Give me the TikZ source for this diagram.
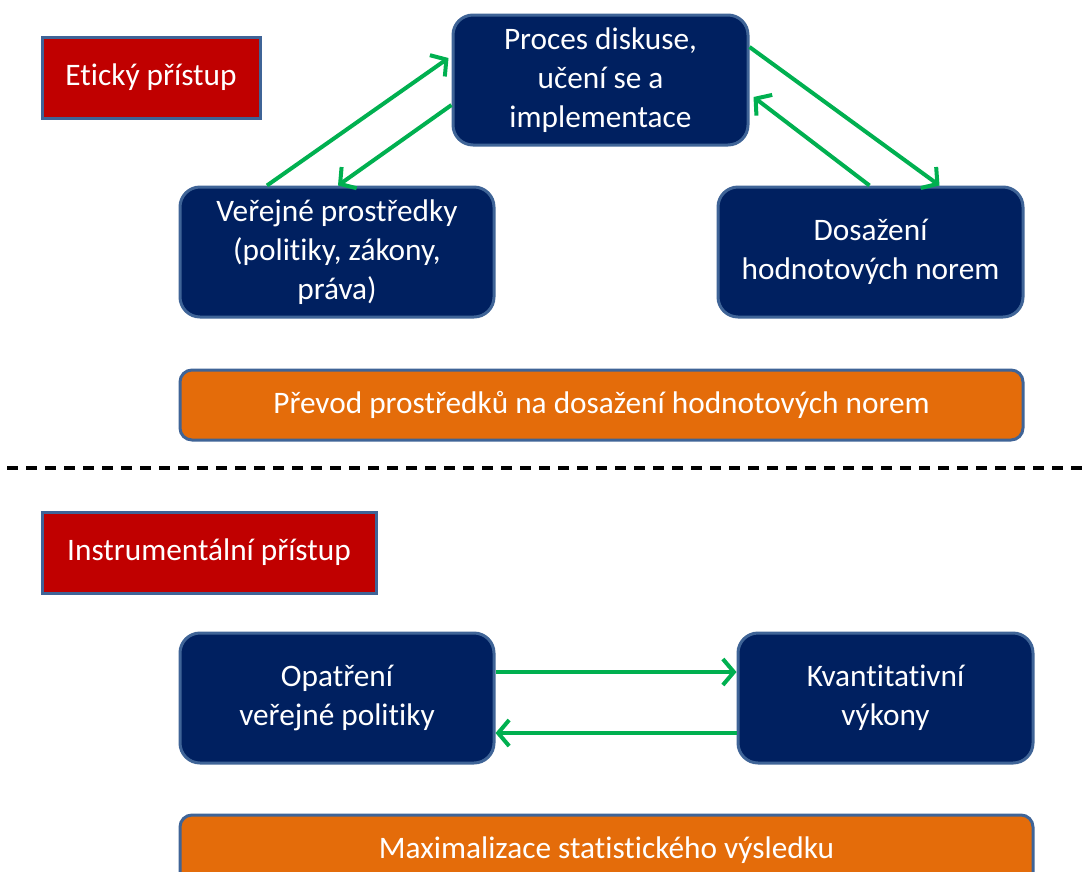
\documentclass[tikz,border=0pt]{standalone}
\usepackage{fontspec}
\setmainfont{Carlito}[Ligatures=NoCommon]
\usetikzlibrary{arrows.meta,calc}
\definecolor{navy}{HTML}{002060}
\definecolor{edgeblue}{HTML}{3F6497}
\definecolor{boxred}{HTML}{C00000}
\definecolor{boxorange}{HTML}{E46C0A}
\definecolor{arrgreen}{HTML}{00B050}
\tikzset{
  every node/.style={font=\fontsize{31.3}{39}\selectfont, text=white, align=center, inner sep=0pt},
  navybox/.style={draw=edgeblue, line width=3pt, fill=navy, rounded corners=20pt, minimum height=130pt},
  redbox/.style={draw=edgeblue, line width=3pt, fill=boxred, minimum height=81pt},
  orangebox/.style={draw=edgeblue, line width=3pt, fill=boxorange, rounded corners=12pt, minimum height=70pt},
  flow/.style={draw=arrgreen, line width=4pt, -{Straight Barb[length=11pt,width=26pt]}},
}
\begin{document}
\begin{tikzpicture}[x=1pt,y=-1pt]
\useasboundingbox (0,0) rectangle (1083,871);

% etický přístup
\node[redbox, minimum width=218pt] (etik) at (151,77.5) {Etický přístup};
\node[navybox, minimum width=295pt] (proces) at (600.5,80) {Proces diskuse,\\učení se a\\implementace};
\node[navybox, minimum width=314pt] (verejne) at (337,252) {Veřejné prostředky\\(politiky, zákony,\\práva)};
\node[navybox, minimum width=305pt] (dosazeni) at (870.5,252) {Dosažení\\hodnotových norem};
\node[orangebox, minimum width=843pt] (prevod) at (601.5,405) {Převod prostředků na dosažení hodnotových norem};

\draw[flow] ($(verejne.north)+(-70,0)$) -- ($(proces.west)+(-3,-22)$);
\draw[flow] ($(proces.west)+(0,25)$) -- ($(verejne.north)+(1,0)$);
\draw[flow] ($(proces.east)+(0,-33)$) -- ($(dosazeni.north)+(69,0)$);
\draw[flow] ($(dosazeni.north)+(-1,0)$) -- ($(proces.east)+(4,17)$);

% predel
\draw[line width=4pt, dash pattern=on 11pt off 8pt] (7,468) -- (1083,468);

% instrumentální přístup
\node[redbox, minimum width=334pt] (instr) at (209,552.5) {Instrumentální přístup};
\node[navybox, minimum width=314pt] (opatreni) at (337,698) {Opatření\\veřejné politiky};
\node[navybox, minimum width=295pt] (kvant) at (885.5,698) {Kvantitativní\\výkony};
\node[orangebox, minimum width=853pt] (maxim) at (606.5,850) {Maximalizace statistického výsledku};

\draw[flow] ($(opatreni.east)+(0,-26)$) -- ($(kvant.west)+(0,-26)$);
\draw[flow] ($(kvant.west)+(0,35)$) -- ($(opatreni.east)+(0,35)$);

\end{tikzpicture}
\end{document}
